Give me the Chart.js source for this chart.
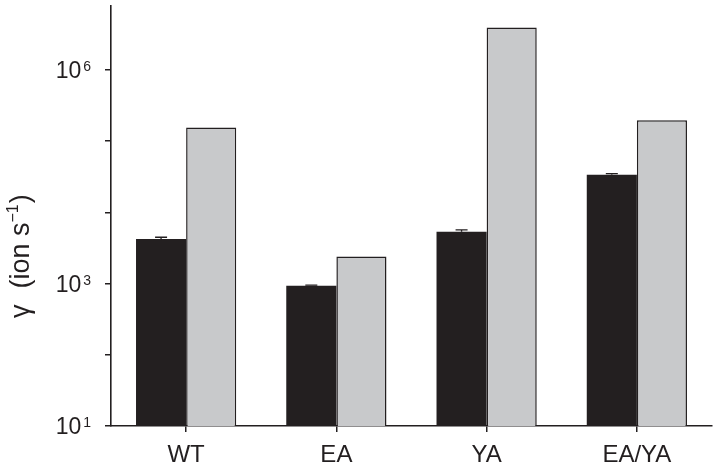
<!DOCTYPE html>
<html>
<head>
<meta charset="utf-8">
<script src="https://cdn.jsdelivr.net/npm/chart.js@4/dist/chart.umd.min.js"></script>
<style>
  html, body { margin: 0; padding: 0; background: #fff; }
  #wrap { width: 718px; height: 471px; position: relative; }
</style>
</head>
<body>
<div id="wrap"><canvas id="chart"></canvas></div>
<script>
// values (log axis)
const categories = ["WT", "EA", "YA", "EA/YA"];
const darkValues = [4230, 934, 5360, 33800];
const darkErrors = [240, 20, 300, 1100];
const greyValues = [155000, 2390, 3930000, 197000];
const tickValues = [10, 100, 1000, 10000, 100000, 1000000];
const labelledTicks = [10, 1000, 1000000];

const INK = "#231f20";
const FONT = "'Liberation Sans', Arial, sans-serif";

/* Superscript tick labels, y title and small error caps drawn on top. */
const extras = {
  id: "extras",
  afterDatasetsDraw(chart) {
    let ctx = chart.ctx;
    let y = chart.scales.y;
    let meta = chart.getDatasetMeta(0);
    ctx.save();
    ctx.strokeStyle = INK;
    ctx.lineWidth = 1.3;
    meta.data.forEach((bar, i) => {
      let top = y.getPixelForValue(darkValues[i] + darkErrors[i]);
      ctx.beginPath();
      ctx.moveTo(bar.x, bar.y);
      ctx.lineTo(bar.x, top);
      ctx.moveTo(bar.x - 6, top);
      ctx.lineTo(bar.x + 6, top);
      ctx.stroke();
    });
    ctx.restore();
  },
  afterDraw(chart) {
    let ctx = chart.ctx;
    let y = chart.scales.y;
    ctx.save();
    ctx.fillStyle = INK;
    ctx.textBaseline = "alphabetic";
    /* tick labels 10^n */
    labelledTicks.forEach((v) => {
      let py = y.getPixelForValue(v);
      let exp = String(Math.round(Math.log10(v)));
      ctx.font = "14px " + FONT;
      let ew = ctx.measureText(exp).width;
      ctx.textAlign = "right";
      ctx.fillText(exp, 91, py + 1);
      ctx.font = "23px " + FONT;
      ctx.fillText("10", 91 - ew - 2, py + 8);
    });
    /* y title, read bottom to top */
    ctx.translate(29, 318);
    ctx.rotate(-Math.PI / 2);
    ctx.textAlign = "left";
    ctx.font = "27px " + FONT;
    ctx.fillText("\u03b3", 0, 0);
    let x = ctx.measureText("\u03b3").width + 16;
    ctx.fillText("(ion s", x, 0);
    x += ctx.measureText("(ion s").width;
    ctx.font = "16px " + FONT;
    ctx.fillText("\u22121", x, -11);
    x += ctx.measureText("\u22121").width + 1;
    ctx.font = "27px " + FONT;
    ctx.fillText(")", x, 0);
    ctx.restore();
  },
};

let ctx = document.querySelector("#chart").getContext("2d");
let chart = new Chart(ctx, {
  type: "bar",
  data: {
    labels: categories,
    datasets: [
      {
        label: "dark",
        data: darkValues,
        backgroundColor: INK,
        borderWidth: 0,
      },
      {
        label: "grey",
        data: greyValues,
        backgroundColor: "#c8c9cb",
        borderColor: INK,
        borderWidth: 1.5,
      },
    ],
  },
  options: {
    responsive: true,
    maintainAspectRatio: false,
    animation: false,
    categoryPercentage: 0.667,
    barPercentage: 1,
    layout: { padding: { top: 6, right: 6, left: 0, bottom: 0 } },
    plugins: {
      legend: { display: false },
      tooltip: { enabled: false },
    },
    scales: {
      x: {
        grid: {
          display: true,
          offset: false,
          drawOnChartArea: false,
          drawTicks: true,
          tickLength: 6,
          color: INK,
          lineWidth: 1.5,
        },
        border: { display: true, color: INK, width: 1.6 },
        ticks: {
          color: INK,
          padding: 9,
          font: { family: FONT, size: 24 },
          maxRotation: 0,
        },
        afterFit: (scale) => {
          scale.height = 45;
        },
      },
      y: {
        type: "logarithmic",
        min: 10,
        max: 7900000,
        grid: {
          drawOnChartArea: false,
          drawTicks: true,
          tickLength: 6,
          color: INK,
          lineWidth: 1.5,
        },
        border: { display: true, color: INK, width: 1.6 },
        ticks: { display: false },
        afterBuildTicks: (scale) => {
          scale.ticks = tickValues.map((v) => ({ value: v }));
        },
        afterFit: (scale) => {
          scale.width = 111;
        },
      },
    },
  },
  plugins: [extras],
});
</script>
</body>
</html>
